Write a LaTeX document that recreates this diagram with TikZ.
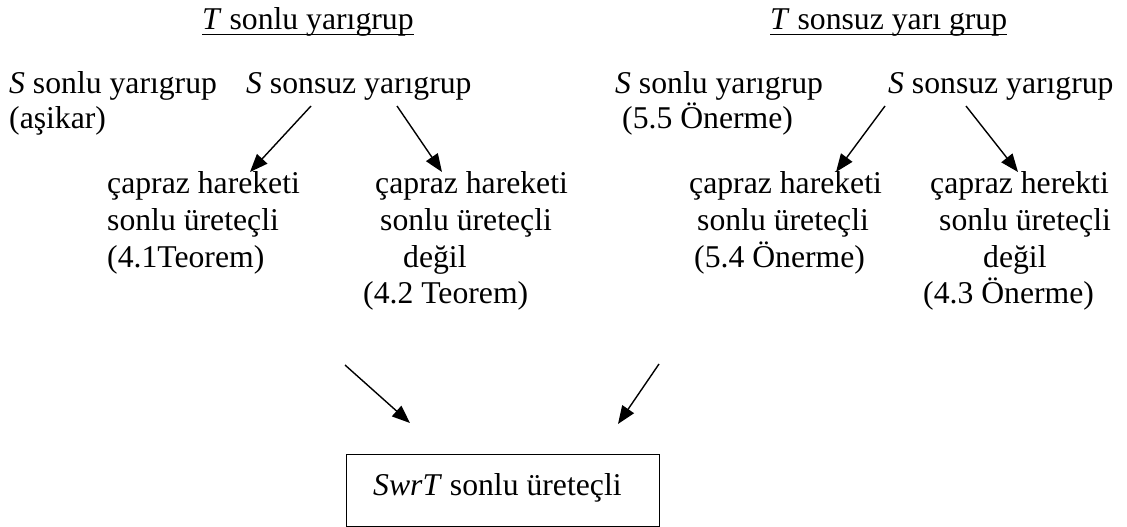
\documentclass[tikz,border=0pt]{standalone}
\usepackage{fontspec}
\setmainfont{Liberation Serif}
\usetikzlibrary{arrows.meta}
\begin{document}
\begin{tikzpicture}[x=1pt,y=-1pt,
  txt/.style={anchor=base west,inner sep=0pt,font=\fontsize{31.7}{37}\selectfont},
  arr/.style={line width=1.4pt,-{Triangle[length=18pt,width=14pt]}},
  ul/.style={line width=1.4pt},
  boxst/.style={draw,line width=1.4pt,minimum width=313pt,minimum height=72pt,anchor=north west,inner sep=0pt}]
\useasboundingbox (0,0) rectangle (1127,527);
% titles
\node[txt] (t1) at (202,30) {\textit{T} sonlu yarıgrup};
\node[txt] (t2) at (770,30) {\textit{T} sonsuz yarı grup};
\draw[ul] ([yshift=-4.5pt]t1.base west) -- ([yshift=-4.5pt]t1.base east);
\draw[ul] ([yshift=-4.5pt]t2.base west) -- ([yshift=-4.5pt]t2.base east);
% S row
\node[txt] (s1) at (9,93) {\textit{S} sonlu yarıgrup};
\node[txt] (s1b) at (9,128) {(aşikar)};
\node[txt] (s2) at (246,93) {\textit{S} sonsuz yarıgrup};
\node[txt] (s3) at (615,93) {\textit{S} sonlu yarıgrup};
\node[txt] (s3b) at (622,128) {(5.5 Önerme)};
\node[txt] (s4) at (888,93) {\textit{S} sonsuz yarıgrup};
% column 1
\node[txt] (c1a) at (107,193) {çapraz hareketi};
\node[txt] (c1b) at (107,230) {sonlu üreteçli};
\node[txt] (c1c) at (107,267) {(4.1Teorem)};
% column 2
\node[txt] (c2a) at (375,193) {çapraz hareketi};
\node[txt] (c2b) at (380,230) {sonlu üreteçli};
\node[txt] (c2c) at (403,267) {değil};
\node[txt] (c2d) at (363,303) {(4.2 Teorem)};
% column 3
\node[txt] (c3a) at (689,193) {çapraz hareketi};
\node[txt] (c3b) at (697,230) {sonlu üreteçli};
\node[txt] (c3c) at (694,267) {(5.4 Önerme)};
% column 4
\node[txt] (c4a) at (930,193) {çapraz herekti};
\node[txt] (c4b) at (939,230) {sonlu üreteçli};
\node[txt] (c4c) at (983,267) {değil};
\node[txt] (c4d) at (923,303) {(4.3 Önerme)};
% box
\node[boxst] (box) at (346,454) {};
\node[txt] (boxt) at (373,495) {\textit{SwrT} sonlu üreteçli};
% arrow ends
\coordinate (a1s) at (311,106); \coordinate (a1e) at (250,172);
\coordinate (a2s) at (397,106); \coordinate (a2e) at (442,172);
\coordinate (a3s) at (885,106); \coordinate (a3e) at (836,172);
\coordinate (a4s) at (966,106); \coordinate (a4e) at (1018,172);
\coordinate (b1s) at (345,365); \coordinate (b1e) at (410,423);
\coordinate (b2s) at (659,364); \coordinate (b2e) at (618,424);
\draw[arr] (a1s) -- (a1e);
\draw[arr] (a2s) -- (a2e);
\draw[arr] (a3s) -- (a3e);
\draw[arr] (a4s) -- (a4e);
\draw[arr] (b1s) -- (b1e);
\draw[arr] (b2s) -- (b2e);
\end{tikzpicture}
\end{document}
